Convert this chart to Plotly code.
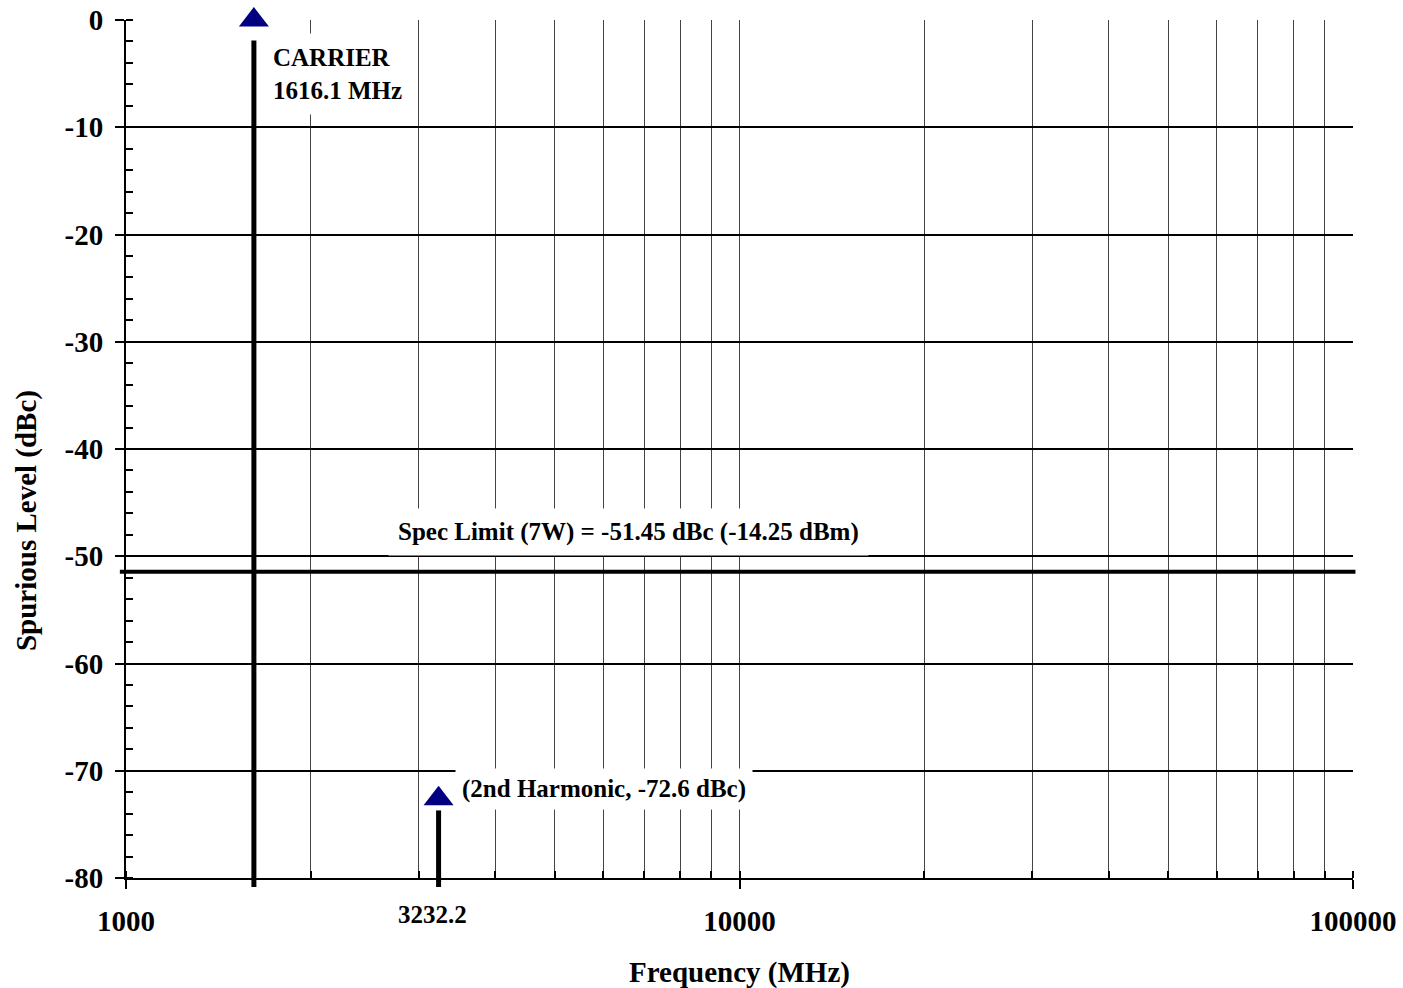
import math
import plotly.graph_objects as go

# ---- data ----
signal_names = ["CARRIER", "2nd Harmonic"]
signal_freq_mhz = [1616.1, 3232.2]
signal_level_dbc = [0.0, -72.6]
stem_top_dbc = [-1.9, -73.7]
spec_limit_dbc = [-51.45]
x_tick_vals = [1000, 10000, 100000]
x_tick_text = ["1000", "10000", "100000"]
y_tick_vals = [0, -10, -20, -30, -40, -50, -60, -70, -80]
y_tick_text = ["0", "-10", "-20", "-30", "-40", "-50", "-60", "-70", "-80"]

FONT = "Liberation Serif, Times New Roman, serif"
AX_FONT = dict(family=FONT, size=29, color="black", weight="bold")
ANN_FONT = dict(family=FONT, size=25, color="black", weight="bold")

fig = go.Figure()

# stems
for f, top in zip(signal_freq_mhz, stem_top_dbc):
    fig.add_trace(go.Scatter(
        x=[f, f], y=[-80, top], mode="lines",
        line=dict(color="black", width=5), showlegend=False, hoverinfo="skip"))

# triangle markers
fig.add_trace(go.Scatter(
    x=signal_freq_mhz, y=signal_level_dbc, mode="markers",
    marker=dict(symbol="triangle-up", size=26, color="#000080",
                line=dict(width=0)),
    cliponaxis=False, showlegend=False))

# stem extensions below the x axis
for f in signal_freq_mhz:
    fig.add_shape(type="line", xref="x", yref="paper", x0=f, x1=f,
                  y0=-0.0105, y1=0, line=dict(color="black", width=5))

# spec limit line
fig.add_shape(type="line", xref="paper", yref="y", x0=-0.005, x1=1.002,
              y0=spec_limit_dbc[0], y1=spec_limit_dbc[0],
              line=dict(color="black", width=4), layer="above")

lx = [math.log10(f) for f in signal_freq_mhz]  # annotations on log axes use log10

annotations = [
    dict(text="CARRIER<br>1616.1 MHz", x=lx[0], y=signal_level_dbc[0],
         xref="x", yref="y", xanchor="left", yanchor="middle", xshift=8, yshift=-54,
         align="left", showarrow=False, bgcolor="white", borderpad=10, font=ANN_FONT),
    dict(text="(2nd Harmonic, -72.6 dBc)", x=lx[1], y=signal_level_dbc[1],
         xref="x", yref="y", xanchor="left", yanchor="middle", xshift=16, yshift=10,
         align="left", showarrow=False, bgcolor="white", borderpad=6, font=ANN_FONT),
    dict(text="Spec Limit (7W) = -51.45 dBc (-14.25 dBm)", x=0.4095, y=spec_limit_dbc[0],
         xref="paper", yref="y", xanchor="center", yanchor="middle", yshift=40,
         showarrow=False, bgcolor="white", borderpad=9, font=ANN_FONT),
    dict(text="3232.2", x=lx[1], y=-0.0425, xref="x", yref="paper",
         xanchor="center", yanchor="middle", xshift=-6, showarrow=False,
         font=dict(family=FONT, size=25, color="black", weight="bold")),
    dict(text="Frequency (MHz)", x=0.5, y=-0.1107, xref="paper", yref="paper",
         xanchor="center", yanchor="middle", showarrow=False, font=AX_FONT),
    dict(text="Spurious Level (dBc)", x=-0.0815, y=0.4172, xref="paper", yref="paper",
         xanchor="center", yanchor="middle", textangle=-90, showarrow=False, font=AX_FONT),
]

fig.update_layout(
    width=1403, height=988,
    margin=dict(l=126, r=50, t=20, b=110, pad=0, autoexpand=False),
    paper_bgcolor="white", plot_bgcolor="white",
    showlegend=False,
    annotations=annotations,
    xaxis=dict(
        type="log", range=[3, 5], automargin=False,
        tickvals=x_tick_vals, ticktext=x_tick_text,
        ticks="outside", ticklen=9, tickwidth=2, tickcolor="black",
        tickfont=AX_FONT, ticklabelstandoff=7,
        showline=True, linecolor="black", linewidth=2,
        showgrid=True, gridcolor="#444", gridwidth=1,
        zeroline=False,
        minor=dict(dtick="D1", ticks="inside", ticklen=7, tickwidth=2, tickcolor="black",
                   showgrid=True, gridcolor="#444", gridwidth=1),
    ),
    yaxis=dict(
        range=[-80, 0], automargin=False,
        tickvals=y_tick_vals, ticktext=y_tick_text,
        ticks="outside", ticklen=9, tickwidth=2, tickcolor="black",
        tickfont=AX_FONT, ticklabelstandoff=6,
        showline=True, linecolor="black", linewidth=2,
        showgrid=True, gridcolor="black", gridwidth=2,
        zeroline=False,
        minor=dict(dtick=2, ticks="inside", ticklen=7, tickwidth=2, tickcolor="black",
                   showgrid=False),
    ),
)

fig.write_html("out.html", config={"displayModeBar": False},
               post_script="document.body.style.margin='0';document.body.style.overflow='hidden';")
